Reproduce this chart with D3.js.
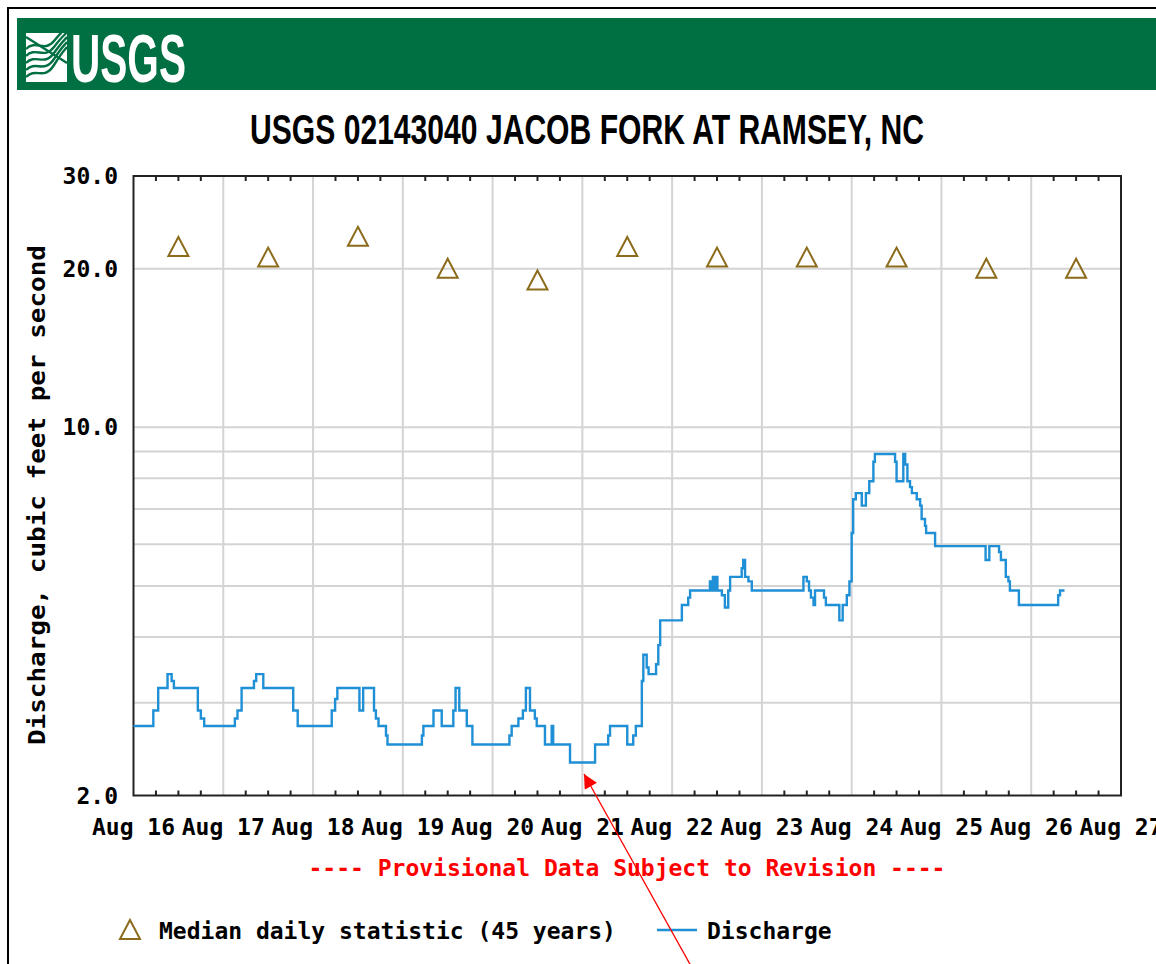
<!DOCTYPE html>
<html lang="en">
<head>
<meta charset="UTF-8">
<title>USGS 02143040 JACOB FORK AT RAMSEY, NC</title>
<script src="https://d3js.org/d3.v7.min.js"></script>
<style>
    body {
        margin: 0;
        background: #fff;
    }
    svg { display: block; }
    .pix {
        font-family: 'DejaVu Sans Mono', monospace;
        font-weight: bold;
        font-size: 23px;
    }
</style>
</head>
<body>
<svg id="chart" width="1156" height="964"></svg>
<script>
    // median daily statistic (45 years), one value per day, drawn at noon
    const medianDays = ["2024-08-16", "2024-08-17", "2024-08-18", "2024-08-19", "2024-08-20", "2024-08-21",
                        "2024-08-22", "2024-08-23", "2024-08-24", "2024-08-25", "2024-08-26"];
    const medianValues = [22, 21, 23, 20, 19, 22, 21, 21, 21, 20, 20];

    // discharge: hours after Aug 16 00:00 at which the reading changes, and the reading from then on
    const dischargeHours = [
        0, 5.3, 6.6, 9.1, 10.2, 10.8, 17.2, 18.0, 18.9,
        27.1, 27.8, 28.9, 32.2, 32.8, 34.7, 42.7, 43.9,
        53.0, 53.9, 54.5, 60.4, 61.4, 64.3, 64.8, 65.5, 67.5, 67.9,
        77.1, 77.5, 80.2, 82.4, 85.5, 86.1, 87.1, 89.1, 90.6,
        100.5, 101.1, 102.9, 104.1, 104.9, 106.0, 107.3, 107.8, 110.0, 111.8, 112.2, 116.7,
        123.4, 126.9, 127.4, 132.0, 133.6, 134.3, 135.9, 136.3, 137.2, 137.7, 139.7, 140.3, 140.8,
        146.6, 148.3, 148.8, 154.1, 154.6, 154.9, 155.3, 155.7, 156.1, 157.3, 158.1, 159.0, 159.5,
        162.6, 163.0, 163.5, 164.4, 165.3,
        179.1, 180.0, 180.6, 181.1, 181.8, 182.2, 184.6, 185.1, 188.7, 189.6, 190.7, 191.4,
        192.0, 192.4, 193.1, 194.7, 195.8, 196.7, 197.8, 198.2,
        203.6, 204.0, 205.8, 206.3, 206.9, 207.6, 208.1, 209.4, 210.3, 210.7, 211.6, 211.9, 214.3,
        227.8, 228.8, 231.4, 231.9, 233.2, 233.9, 234.3, 236.7, 247.2, 247.7, 248.9
    ];
    const dischargeValues = [
        2.71, 2.90, 3.20, 3.40, 3.30, 3.20, 2.90, 2.80, 2.71,
        2.80, 2.90, 3.20, 3.30, 3.40, 3.20, 2.90, 2.71,
        2.90, 3.05, 3.20, 2.90, 3.20, 2.90, 2.80, 2.71, 2.60, 2.50,
        2.60, 2.71, 2.90, 2.71, 2.90, 3.20, 2.90, 2.71, 2.50,
        2.60, 2.71, 2.80, 2.90, 3.20, 2.90, 2.80, 2.71, 2.50, 2.71, 2.50, 2.31,
        2.50, 2.60, 2.71, 2.50, 2.60, 2.71, 3.30, 3.70, 3.50, 3.40, 3.55, 3.86, 4.30,
        4.60, 4.75, 4.90, 5.10, 4.90, 5.20, 4.90, 5.20, 4.90, 4.80, 4.55, 4.90, 5.20,
        5.40, 5.60, 5.20, 5.10, 4.90,
        5.20, 5.10, 4.90, 4.75, 4.60, 4.90, 4.75, 4.60, 4.30, 4.60, 4.80, 5.10,
        6.30, 7.30, 7.50, 7.10, 7.50, 7.90, 8.60, 8.90,
        8.60, 7.90, 8.90, 8.50, 7.90, 7.70, 7.50, 7.30, 7.10, 6.70, 6.50, 6.30, 5.95,
        5.60, 5.95, 5.80, 5.60, 5.20, 5.10, 4.90, 4.60, 4.80, 4.90, 4.90
    ];

    const xTickLabels = ["Aug 16", "Aug 17", "Aug 18", "Aug 19", "Aug 20", "Aug 21",
                         "Aug 22", "Aug 23", "Aug 24", "Aug 25", "Aug 26", "Aug 27"];
    const yTickValues = [2, 10, 20, 30];
    const yGridValues = [3, 4, 5, 6, 7, 8, 9, 10, 20];

    const parseDay = d3.timeParse("%Y-%m-%d");
    const start = parseDay("2024-08-16");
    const end = parseDay("2024-08-27");

    const W = 1156, H = 964;
    const plotLeft = 133.5, plotRight = 1121, plotTop = 176, plotBottom = 795.5;

    const green = "#006f41";
    const blue = "#1f8fd6";
    const gold = "#8c6c1c";

    const svg = d3.select("#chart");

    const x = d3.scaleTime().domain([start, end]).range([plotLeft, plotRight]);
    const y = d3.scaleLog().domain([2, 30]).range([plotBottom, plotTop]);

    svg.append("rect").attr("width", W).attr("height", H).attr("fill", "#fff");

    // outer frame
    svg.append("path")
        .attr("d", `M8,${H} V8 H${W}`)
        .attr("fill", "none")
        .attr("stroke", "#000")
        .attr("stroke-width", 2);

    //////////////// USGS banner
    svg.append("rect")
        .attr("x", 17).attr("y", 18)
        .attr("width", W - 17).attr("height", 72)
        .attr("fill", green);

    const logo = svg.append("g").attr("transform", "translate(26,33)");
    logo.append("rect").attr("width", 41).attr("height", 49).attr("fill", "#fff");
    // waves inside the identifier
    [12, 19, 26, 33, 40].forEach((o, i) => {
        logo.append("path")
            .attr("d", `M0,${o + 4} C10,${o - 6} 18,${o + 8} 28,${o - 4 - i} S38,${o - 14 - i * 2} 41,${o - 18 - i * 2}`)
            .attr("fill", "none")
            .attr("stroke", green)
            .attr("stroke-width", 2.4);
    });
    logo.append("path")
        .attr("d", "M0,4 L41,30")
        .attr("stroke", green)
        .attr("stroke-width", 2.4);

    svg.append("text")
        .attr("x", 71).attr("y", 81.5)
        .attr("textLength", 115)
        .attr("lengthAdjust", "spacingAndGlyphs")
        .attr("font-family", "'Liberation Sans Narrow', 'Arial Narrow', 'Liberation Sans', sans-serif")
        .attr("font-weight", "bold")
        .attr("font-size", 68)
        .attr("fill", "#fff")
        .text("USGS");

    //////////////// title
    svg.append("text")
        .attr("x", 250).attr("y", 144)
        .attr("textLength", 674)
        .attr("lengthAdjust", "spacingAndGlyphs")
        .attr("font-family", "'Liberation Sans Narrow', 'Arial Narrow', 'Liberation Sans', sans-serif")
        .attr("font-weight", "bold")
        .attr("font-size", 42)
        .attr("fill", "#000")
        .text("USGS 02143040 JACOB FORK AT RAMSEY, NC");

    //////////////// grid
    const days = d3.timeDay.range(d3.timeDay.offset(start, 1), end);
    svg.append("g").selectAll("line")
        .data(days)
        .enter().append("line")
        .attr("x1", d => x(d)).attr("x2", d => x(d))
        .attr("y1", plotTop).attr("y2", plotBottom)
        .attr("stroke", "#d4d4d4")
        .attr("stroke-width", 2);

    svg.append("g").selectAll("line")
        .data(yGridValues)
        .enter().append("line")
        .attr("x1", plotLeft).attr("x2", plotRight)
        .attr("y1", d => y(d)).attr("y2", d => y(d))
        .attr("stroke", "#d4d4d4")
        .attr("stroke-width", 2);

    // 6-hour ticks on top and bottom edges, pointing inward
    const sixHours = d3.timeHour.every(6).range(start, end).filter(d => d.getHours() !== 0);
    const ticks = svg.append("g").attr("stroke", "#222").attr("stroke-width", 2);
    sixHours.forEach(d => {
        ticks.append("line").attr("x1", x(d)).attr("x2", x(d)).attr("y1", plotBottom).attr("y2", plotBottom - 5);
        ticks.append("line").attr("x1", x(d)).attr("x2", x(d)).attr("y1", plotTop).attr("y2", plotTop + 5);
    });

    // plot frame
    svg.append("rect")
        .attr("x", plotLeft).attr("y", plotTop)
        .attr("width", plotRight - plotLeft).attr("height", plotBottom - plotTop)
        .attr("fill", "none")
        .attr("stroke", "#222")
        .attr("stroke-width", 2);

    //////////////// discharge
    const discharge = dischargeHours.map((h, i) => ({
        date: new Date(start.getTime() + h * 3600 * 1000),
        value: dischargeValues[i]
    }));

    const line = d3.line()
        .x(d => x(d.date))
        .y(d => y(d.value))
        .curve(d3.curveStepAfter);

    svg.append("path")
        .datum(discharge)
        .attr("d", line)
        .attr("fill", "none")
        .attr("stroke", blue)
        .attr("stroke-width", 2.4)
        .attr("stroke-linejoin", "miter");

    //////////////// median triangles
    const tri = "M0,-10 L10,9 L-10,9 Z";
    const medians = medianDays.map((d, i) => ({
        date: d3.timeHour.offset(parseDay(d), 12),
        value: medianValues[i]
    }));
    svg.append("g").selectAll("path")
        .data(medians)
        .enter().append("path")
        .attr("transform", d => `translate(${x(d.date)},${y(d.value)})`)
        .attr("d", tri)
        .attr("fill", "none")
        .attr("stroke", gold)
        .attr("stroke-width", 2);

    //////////////// axis labels
    svg.append("g").selectAll("text")
        .data(yTickValues)
        .enter().append("text")
        .attr("class", "pix")
        .attr("x", 118)
        .attr("y", d => y(d) + 8)
        .attr("text-anchor", "end")
        .text(d => d.toFixed(1));

    const labelDays = d3.timeDay.range(start, d3.timeDay.offset(end, 1));
    svg.append("g").selectAll("text")
        .data(labelDays)
        .enter().append("text")
        .attr("class", "pix")
        .attr("x", d => x(d))
        .attr("y", 835)
        .attr("text-anchor", "middle")
        .text((d, i) => xTickLabels[i]);

    svg.append("text")
        .attr("class", "pix")
        .attr("transform", "translate(45,495) rotate(-90)")
        .attr("text-anchor", "middle")
        .attr("textLength", 500)
        .attr("lengthAdjust", "spacingAndGlyphs")
        .text("Discharge, cubic feet per second");

    svg.append("text")
        .attr("class", "pix")
        .attr("x", 627).attr("y", 876)
        .attr("text-anchor", "middle")
        .attr("fill", "#ff0000")
        .text("---- Provisional Data Subject to Revision ----");

    //////////////// legend
    svg.append("path")
        .attr("transform", "translate(130,930)")
        .attr("d", tri)
        .attr("fill", "none")
        .attr("stroke", gold)
        .attr("stroke-width", 2);
    svg.append("text")
        .attr("class", "pix")
        .attr("x", 159).attr("y", 939)
        .text("Median daily statistic (45 years)");
    svg.append("line")
        .attr("x1", 657).attr("x2", 697)
        .attr("y1", 930).attr("y2", 930)
        .attr("stroke", blue)
        .attr("stroke-width", 2.4);
    svg.append("text")
        .attr("class", "pix")
        .attr("x", 707).attr("y", 939)
        .text("Discharge");

    //////////////// red annotation arrow
    svg.append("defs").append("marker")
        .attr("id", "arrowhead")
        .attr("viewBox", "0 0 10 10")
        .attr("refX", 10).attr("refY", 5)
        .attr("markerWidth", 20).attr("markerHeight", 14)
        .attr("markerUnits", "userSpaceOnUse")
        .attr("orient", "auto")
        .append("path")
        .attr("d", "M0,0 L10,5 L0,10 Z")
        .attr("fill", "#ff0000");
    svg.append("line")
        .attr("x1", 691).attr("y1", 966)
        .attr("x2", 584).attr("y2", 774)
        .attr("stroke", "#ff0000")
        .attr("stroke-width", 1.3)
        .attr("marker-end", "url(#arrowhead)");
</script>
</body>
</html>
